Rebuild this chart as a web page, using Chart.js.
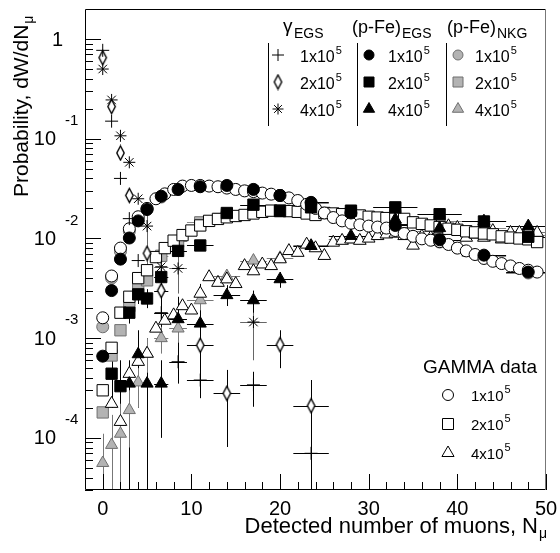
<!DOCTYPE html>
<html>
<head>
<meta charset="utf-8">
<script src="https://cdn.jsdelivr.net/npm/chart.js@4.4.1/dist/chart.umd.min.js"></script>
<style>
html,body{margin:0;padding:0;background:#fff}
</style>
</head>
<body>
<canvas id="c" width="560" height="553"></canvas>
<script>
// ---- simulation bins (EGS / NKG), value = bin centre, half width ----
var simN  = [0,1,2,3,4,5,6.6,8.5,11,14,17,20,23.5,28,33,38,43,48];
var simDx = [0,0,0,0,0,0,0.8,1,1.5,1.5,1.5,1.5,2,2.5,2.5,2.5,2.5,2.5];

// (p-Fe) EGS
var egs1 = [6.6e-4,3.0e-3,6.2e-3,0.0101,0.015,0.0195,0.0265,0.031,0.033,0.034,0.031,0.027,0.023,0.018,0.0135,0.0097,0.0068,0.0046];
var egs2 = [null,4.4e-4,3.3e-4,1.8e-3,2.75e-3,2.5e-3,4.1e-3,7.5e-3,8.5e-3,0.018,0.0218,0.0188,0.0205,0.019,0.0205,0.0175,0.0148,0.0104];
var egs2Lo = [null,2e-4,1e-4,1.4e-3,2.2e-3,2e-3,3.4e-3,6.5e-3,7.5e-3,0.0165,0.02,0.0172,0.019,0.0178,0.0192,0.0163,0.0138,0.0096];
var egs2Hi = [null,7e-4,6e-4,2.2e-3,3.3e-3,3.1e-3,4.9e-3,8.5e-3,9.5e-3,0.0195,0.0236,0.0204,0.022,0.0202,0.0218,0.0187,0.0158,0.0112];
var egs4 = [null,null,null,3.5e-4,6.9e-4,3.5e-4,3.5e-4,1.55e-3,1.4e-3,2.7e-3,2.4e-3,3.9e-3,8.4e-3,0.0106,0.0155,0.0127,0.0149,0.0133];
var egs4Lo = [null,null,null,1e-6,2e-4,1e-6,1e-4,7e-4,8e-4,2.1e-3,1.8e-3,3.2e-3,7.5e-3,9.5e-3,0.014,0.0115,0.0135,0.012];
var egs4Hi = [null,null,null,6e-4,1.2e-3,1e-3,6e-4,2.6e-3,2.3e-3,3.4e-3,3e-3,4.6e-3,9.4e-3,0.0118,0.017,0.014,0.0165,0.0148];

// (p-Fe) NKG
var nkg1 = [1.3e-3,4.0e-3,7.4e-3,0.0118,0.0155,0.0198,0.026,0.031,0.0335,0.0335,0.031,0.027,0.0225,0.0175,0.013,0.0092,0.0066,0.0045];
var nkg2 = [1.8e-4,6.7e-4,1.2e-3,2.1e-3,3.2e-3,3.8e-3,6.7e-3,9.4e-3,0.0145,0.0172,0.0185,0.019,0.0195,0.0182,0.0168,0.0148,0.0128,0.0108];
var nkg4 = [5.6e-5,8.5e-5,1.1e-4,1.9e-4,3.6e-4,7e-4,1.0e-3,1.25e-3,2.4e-3,4.2e-3,6e-3,6.4e-3,8.5e-3,0.0098,0.0119,0.0118,0.0104,0.0116];
var nkg4Lo = [1e-6,3e-5,1e-6,8e-5,2e-4,4.5e-4,7e-4,9e-4,1.9e-3,3.6e-3,5.3e-3,5.7e-3,7.8e-3,9e-3,0.011,0.011,0.0097,0.0108];
var nkg4Hi = [1.1e-4,1.7e-4,2.2e-4,3e-4,5e-4,1e-3,1.3e-3,1.6e-3,2.9e-3,4.8e-3,6.7e-3,7.1e-3,9.2e-3,0.0106,0.0128,0.0126,0.0111,0.0124];

// gamma EGS
var gN  = [0,1,2,3,4,5,6.6,8.5,11,14,17,20,23.5];
var gDx = [0,0,0,0,0,0,0.8,1,1.5,1.5,1.5,1.5,2];
var gam1   = [0.77,0.15,0.040,0.0158,0.0060,null,0.0018,5.8e-4,3.8e-4,null,3.4e-4,null,7.0e-5];
var gam1Lo = [null,null,null,null,null,null,1.1e-3,3.5e-4,2.5e-4,null,2.05e-4,null,1e-6];
var gam1Hi = [null,null,null,null,null,null,2.6e-3,1.0e-3,6.0e-4,null,4.6e-4,null,3.8e-4];
var gam2   = [0.65,0.21,0.072,0.027,null,0.0071,0.0030,null,8.5e-4,2.8e-4,null,8.6e-4,2.1e-4];
var gam2Lo = [null,null,null,null,null,5.2e-3,2.0e-3,null,5.0e-4,8.1e-5,null,5.0e-4,1e-6];
var gam2Hi = [null,null,null,null,null,9.5e-3,4.4e-3,null,3.5e-3,4.8e-4,null,1.2e-3,3.8e-4];
var gam4   = [0.50,0.245,0.107,0.058,0.025,0.0133,0.0052,0.0050,null,null,1.45e-3,null,null];
var gam4Lo = [null,null,null,null,null,5.0e-3,3.5e-3,2.8e-3,null,null,6.0e-4,null,null];
var gam4Hi = [null,null,null,null,null,0.020,7.5e-3,8.0e-3,null,null,2.6e-3,null,null];

// GAMMA data, unit bins
var dataN = [0,1,2,3,4,5,6,7,8,9,10,11,12,13,14,15,16,17,18,19,20,21,22,23,24,25,26,27,28,29,30,31,32,33,34,35,36,37,38,39,40,41,42,43,44,45,46,47,48,49];
var gd1 = [1.6e-3,4.2e-3,8e-3,0.0125,0.0165,0.020,0.025,0.028,0.031,0.0335,0.034,0.034,0.0335,0.033,0.032,0.031,0.030,0.0295,0.0285,0.0278,
           0.027,0.0255,0.024,0.022,0.020,0.018,0.0162,0.015,0.0142,0.0137,0.0133,0.013,0.0127,0.012,0.0112,0.0105,0.0099,0.0096,0.0093,0.0087,
           0.008,0.0075,0.0069,0.0063,0.0059,0.0056,0.0053,0.005,0.0048,0.0046];
var gd2 = [3.0e-4,8e-4,1.8e-3,2.6e-3,4.0e-3,4.8e-3,6.5e-3,8e-3,9.5e-3,0.0108,0.012,0.0135,0.015,0.0157,0.0163,0.0168,0.0172,0.0178,0.0185,0.019,
           0.019,0.0188,0.0185,0.0178,0.0172,0.018,0.0178,0.0175,0.0172,0.017,0.0165,0.0162,0.016,0.0158,0.0157,0.0145,0.014,0.0135,0.013,0.0125,
           0.0122,0.0118,0.0115,0.0112,0.011,0.0105,0.0102,0.01,0.0098,0.0092];
var gd4 = [null,2.2e-4,1.45e-4,4.4e-4,5.8e-4,7e-4,1.25e-3,1.5e-3,1.7e-3,2.1e-3,1.9e-3,2.8e-3,4.1e-3,3.6e-3,3.9e-3,3.5e-3,5.3e-3,4.7e-3,5.5e-3,5.3e-3,
           6.2e-3,7.5e-3,7.2e-3,8.7e-3,8e-3,6.7e-3,9.1e-3,9.5e-3,9.8e-3,9.5e-3,0.01,0.0106,0.011,0.0112,0.0106,8.5e-3,0.0105,0.0102,0.012,0.0133,
           0.0128,0.0102,0.011,0.0102,0.0119,9.8e-3,0.0114,0.0114,0.012,0.0114];

var yTicks = [1, 1e-1, 1e-2, 1e-3, 1e-4];
var yExp   = ['', '-1', '-2', '-3', '-4'];
var xTicks = [0, 10, 20, 30, 40, 50];

var GRAY = '#b3b3b3', GRAYL = '#6f6f6f';
var FONT = '"Liberation Sans", Arial, sans-serif';

function pts(xs, ys) {
  return xs.map(function(x, i) { return {x: x, y: ys[i]}; });
}

// ROOT-like narrow open diamond
function diamond() {
  var c = document.createElement('canvas');
  c.width = 11; c.height = 17;
  var g = c.getContext('2d');
  g.beginPath();
  g.moveTo(5.5, 1.5); g.lineTo(9.2, 8.5); g.lineTo(5.5, 15.5); g.lineTo(1.8, 8.5);
  g.closePath();
  g.fillStyle = '#fff'; g.fill();
  g.lineWidth = 1.4; g.strokeStyle = '#000'; g.stroke();
  return c;
}
var diaImg = diamond();

function ds(d, style, r, fill, stroke, extra) {
  var o = {data: d, showLine: false, pointStyle: style, pointRadius: r,
    pointBackgroundColor: fill, pointBorderColor: stroke, pointBorderWidth: 1,
    pointHoverRadius: r};
  for (var k in extra) o[k] = extra[k];
  return o;
}

var datasets = [
  ds(pts(gN, gam1), 'cross', 6.5, '#000', '#000', {dx: gDx, lo: gam1Lo, hi: gam1Hi, errColor: '#000'}),
  ds(pts(gN, gam2), diaImg, 6, '#fff', '#000', {dx: gDx, lo: gam2Lo, hi: gam2Hi, errColor: '#000'}),
  ds(pts(gN, gam4), 'star', 6, '#000', '#000', {dx: gDx, lo: gam4Lo, hi: gam4Hi, errColor: '#666'}),
  ds(pts(simN, egs1), 'circle', 6, '#000', '#000', {dx: simDx, errColor: '#000'}),
  ds(pts(simN, egs2), 'rect', 8, '#000', '#000', {dx: simDx, lo: egs2Lo, hi: egs2Hi, errColor: '#000'}),
  ds(pts(simN, egs4), 'triangle', 7, '#000', '#000', {dx: simDx, lo: egs4Lo, hi: egs4Hi, errColor: '#000'}),
  ds(pts(dataN, gd1), 'circle', 6, '#fff', '#000', {}),
  ds(pts(dataN, gd2), 'rect', 8, '#fff', '#000', {}),
  ds(pts(dataN, gd4), 'triangle', 7.3, '#fff', '#000', {}),
  ds(pts(simN, nkg1), 'circle', 6, GRAY, GRAYL, {dx: simDx, errColor: '#888'}),
  ds(pts(simN, nkg2), 'rect', 8, GRAY, GRAYL, {dx: simDx, errColor: '#888'}),
  ds(pts(simN, nkg4), 'triangle', 7, GRAY, GRAYL, {dx: simDx, lo: nkg4Lo, hi: nkg4Hi, errColor: '#777'})
];

function mark(ctx, s, x, y, r, fill, stroke) {
  ctx.save();
  ctx.fillStyle = fill; ctx.strokeStyle = stroke; ctx.lineWidth = 1;
  ctx.beginPath();
  if (s == 'circle') ctx.arc(x, y, r, 0, 2 * Math.PI);
  else if (s == 'rect') ctx.rect(x - r, y - r, 2 * r, 2 * r);
  else if (s == 'triangle') {
    ctx.moveTo(x, y - r); ctx.lineTo(x + r * 0.866, y + r * 0.5); ctx.lineTo(x - r * 0.866, y + r * 0.5); ctx.closePath();
  } else if (s == 'cross') {
    ctx.moveTo(x - r, y); ctx.lineTo(x + r, y); ctx.moveTo(x, y - r); ctx.lineTo(x, y + r);
    ctx.stroke(); ctx.restore(); return;
  } else if (s == 'star') {
    for (var i = 0; i < 4; i++) {
      var a = i * Math.PI / 4;
      ctx.moveTo(x - r * Math.cos(a), y - r * Math.sin(a)); ctx.lineTo(x + r * Math.cos(a), y + r * Math.sin(a));
    }
    ctx.stroke(); ctx.restore(); return;
  } else if (s == 'diamond') {
    ctx.drawImage(diaImg, x - diaImg.width / 2, y - diaImg.height / 2); ctx.restore(); return;
  }
  ctx.fill(); ctx.stroke();
  ctx.restore();
}

// text with a superscript or subscript
function supText(ctx, x, y, base, sup, size, supSize, dy) {
  ctx.font = size + 'px ' + FONT;
  ctx.fillText(base, x, y);
  var w = ctx.measureText(base).width;
  ctx.font = supSize + 'px ' + FONT;
  ctx.fillText(sup, x + w + 1, y + dy);
}

var errPlugin = {
  id: 'errbars',
  beforeDatasetsDraw: function(chart) {
    var ctx = chart.ctx, a = chart.chartArea, xs = chart.scales.x, ys = chart.scales.y;
    ctx.save();
    ctx.beginPath(); ctx.rect(a.left, a.top, a.right - a.left, a.bottom - a.top); ctx.clip();
    ctx.lineWidth = 1;
    chart.data.datasets.forEach(function(d) {
      ctx.strokeStyle = d.errColor || '#000';
      d.data.forEach(function(p, i) {
        if (p.y == null) return;
        var px = Math.round(xs.getPixelForValue(p.x)) + 0.5, py = Math.round(ys.getPixelForValue(p.y)) + 0.5;
        ctx.beginPath();
        if (d.dx && d.dx[i]) {
          ctx.moveTo(xs.getPixelForValue(p.x - d.dx[i]), py);
          ctx.lineTo(xs.getPixelForValue(p.x + d.dx[i]), py);
        }
        if (d.lo && d.lo[i] != null) {
          ctx.moveTo(px, ys.getPixelForValue(d.lo[i]));
          ctx.lineTo(px, ys.getPixelForValue(d.hi[i]));
        }
        ctx.stroke();
      });
    });
    ctx.restore();
  }
};

var framePlugin = {
  id: 'frame',
  afterDraw: function(chart) {
    var ctx = chart.ctx, a = chart.chartArea, xs = chart.scales.x, ys = chart.scales.y;
    ctx.save();
    ctx.lineWidth = 1;
    ctx.strokeStyle = '#000';
    ctx.beginPath();
    ctx.moveTo(a.left + 0.5, a.bottom - 0.5); ctx.lineTo(a.left + 0.5, a.top + 0.5); ctx.lineTo(a.right - 0.5, a.top + 0.5);
    ctx.moveTo(a.left + 0.5, a.bottom - 0.5); ctx.lineTo(a.right - 0.5, a.bottom - 0.5);
    ctx.stroke();
    ctx.strokeStyle = '#777';
    ctx.beginPath(); ctx.moveTo(a.right - 0.5, a.top + 0.5); ctx.lineTo(a.right - 0.5, a.bottom - 0.5); ctx.stroke();

    // y ticks (log, inside)
    ctx.strokeStyle = '#000';
    ctx.beginPath();
    for (var k = -5; k <= 0; k++) {
      for (var m = 1; m <= 9; m++) {
        var v = m * Math.pow(10, k);
        if (v < ys.min || v >= ys.max) continue;
        var py = Math.round(ys.getPixelForValue(v)) + 0.5;
        ctx.moveTo(a.left, py); ctx.lineTo(a.left + (m == 1 ? 16 : 8), py);
      }
    }
    // x ticks
    for (var t = 0; t <= 50; t += 2) {
      var px = Math.round(xs.getPixelForValue(t)) + 0.5;
      ctx.moveTo(px, a.bottom); ctx.lineTo(px, a.bottom - (t % 10 == 0 ? 16 : 8));
    }
    ctx.stroke();

    ctx.fillStyle = '#000';
    // y labels
    ctx.textBaseline = 'middle';
    yTicks.forEach(function(v, i) {
      var py = ys.getPixelForValue(v);
      ctx.font = '20px ' + FONT;
      if (!yExp[i]) { ctx.textAlign = 'right'; ctx.fillText('1', 63, py + 1); return; }
      ctx.textAlign = 'right'; ctx.fillText('10', 56, py + 1);
      ctx.font = '15px ' + FONT; ctx.textAlign = 'left'; ctx.fillText(yExp[i], 65, py - 18);
    });
    // x labels
    ctx.textAlign = 'center';
    ctx.font = '20px ' + FONT;
    xTicks.forEach(function(v) { ctx.fillText(String(v), xs.getPixelForValue(v), 509); });

    // axis titles
    ctx.textBaseline = 'alphabetic';
    ctx.textAlign = 'left';
    ctx.font = '22px ' + FONT;
    var xt = 'Detected number of muons, N';
    var w = ctx.measureText(xt).width;
    ctx.fillText(xt, 538 - w, 533);
    ctx.font = '14px ' + FONT; ctx.fillText('\u03bc', 539, 538);

    ctx.save();
    ctx.translate(28, 197); ctx.rotate(-Math.PI / 2);
    ctx.font = '21px ' + FONT;
    var yt = 'Probability, dW/dN';
    ctx.fillText(yt, 0, 0);
    var wy = ctx.measureText(yt).width;
    ctx.font = '14px ' + FONT; ctx.fillText('\u03bc', wy + 1, 5);
    ctx.restore();

    // upper legend
    ctx.strokeStyle = '#000';
    ctx.beginPath();
    [268, 357, 446].forEach(function(x) { ctx.moveTo(x + 0.5, 43); ctx.lineTo(x + 0.5, 126); });
    ctx.stroke();
    ctx.font = '19px ' + FONT; ctx.fillText('\u03b3', 283, 32);
    ctx.font = '14px ' + FONT; ctx.fillText('EGS', 294, 38);
    supText(ctx, 352, 33, '(p-Fe)', 'EGS', 18, 14, 5);
    supText(ctx, 447, 33, '(p-Fe)', 'NKG', 18, 14, 5);
    var rows = [55, 82, 109];
    var lab = ['1x10', '2x10', '4x10'];
    var cols = [
      {mx: 278, tx: 300, m: [['cross', 6, '#000', '#000'], ['diamond', 0, '#fff', '#000'], ['star', 5.5, '#000', '#000']]},
      {mx: 369, tx: 388, m: [['circle', 5, '#000', '#000'], ['rect', 5, '#000', '#000'], ['triangle', 6.5, '#000', '#000']]},
      {mx: 458, tx: 475, m: [['circle', 5, GRAY, GRAYL], ['rect', 5, GRAY, GRAYL], ['triangle', 6.5, GRAY, GRAYL]]}
    ];
    cols.forEach(function(c) {
      rows.forEach(function(y, i) {
        var s = c.m[i];
        mark(ctx, s[0], c.mx, y, s[1], s[2], s[3]);
        ctx.fillStyle = '#000';
        supText(ctx, c.tx, y + 7, lab[i], '5', 16, 11, -8);
      });
    });

    // lower legend
    ctx.font = '19px ' + FONT; ctx.fillText('GAMMA data', 423, 373);
    var lrows = [395, 424, 453];
    var lm = ['circle', 'rect', 'triangle'], lr = [5.5, 5.5, 7];
    lrows.forEach(function(y, i) {
      mark(ctx, lm[i], 448, y, lr[i], '#fff', '#000');
      ctx.fillStyle = '#000';
      supText(ctx, 471, y + 6, lab[i], '5', 15, 11, -8);
    });
    ctx.restore();
  }
};

new Chart(document.getElementById('c'), {
  type: 'scatter',
  data: {datasets: datasets},
  options: {
    responsive: false,
    animation: false,
    events: [],
    layout: {padding: {top: 7, right: 14, left: 0, bottom: 0}},
    plugins: {legend: {display: false}, tooltip: {enabled: false}},
    scales: {
      x: {type: 'linear', min: -2, max: 50,
          grid: {display: false, drawTicks: false}, border: {display: false},
          ticks: {display: false},
          afterFit: function(s) { s.height = 63; }},
      y: {type: 'logarithmic', min: 3e-5, max: 2,
          grid: {display: false, drawTicks: false}, border: {display: false},
          ticks: {display: false},
          afterFit: function(s) { s.width = 85; }}
    }
  },
  plugins: [errPlugin, framePlugin]
});
</script>
</body>
</html>
